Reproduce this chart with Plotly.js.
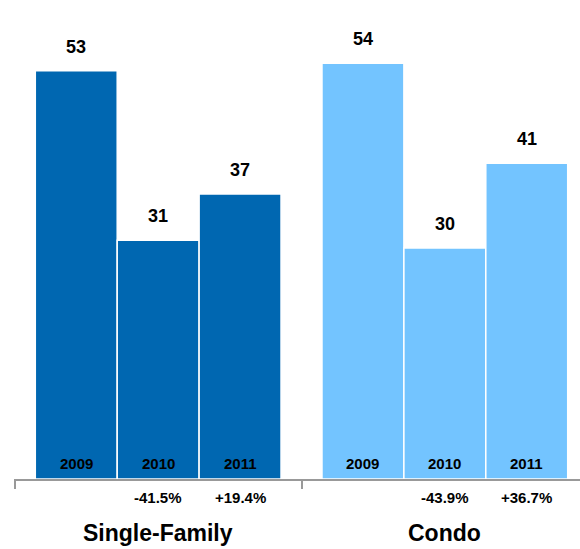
<!DOCTYPE html>
<html>
<head>
<meta charset="utf-8">
<script src="https://cdn.plot.ly/plotly-3.0.1.min.js"></script>
<style>html,body{margin:0;padding:0;background:#fff;}#chart{width:580px;height:549px;}</style>
</head>
<body>
<div id="chart"></div>
<script>
const groups = ["Single-Family", "Condo"];
const years = ["2009", "2010", "2011"];
const singleFamily = [53, 31, 37];
const condo = [54, 30, 41];
const singleFamilyChange = ["", "-41.5%", "+19.4%"];
const condoChange = ["", "-43.9%", "+36.7%"];
const positions = [[0, 1, 2], [3.5, 4.5, 5.5]];
const seriesValues = [singleFamily, condo];
const seriesChanges = [singleFamilyChange, condoChange];
const colors = ["#0067B1", "#73C4FF"];

const font = "Liberation Sans, Arial, Helvetica, sans-serif";
const traces = [];
const annotations = [];
seriesValues.forEach((vals, g) => {
  traces.push({
    type: "bar",
    x: positions[g],
    y: vals,
    width: 1,
    marker: {color: colors[g], line: {color: "#ffffff", width: 1.5}},
    hoverinfo: "skip",
    showlegend: false
  });
  vals.forEach((v, i) => {
    annotations.push({x: positions[g][i], y: v, xref: "x", yref: "y", text: "<b>" + v + "</b>",
      showarrow: false, yanchor: "bottom", yshift: 12, font: {family: font, size: 18, color: "#000"}});
    annotations.push({x: positions[g][i], y: 0, xref: "x", yref: "y", text: "<b>" + years[i] + "</b>",
      showarrow: false, yanchor: "bottom", yshift: 5, font: {family: font, size: 15, color: "#000"}});
    if (seriesChanges[g][i]) {
      annotations.push({x: positions[g][i], y: 0, xref: "x", yref: "paper", text: "<b>" + seriesChanges[g][i] + "</b>",
        showarrow: false, yanchor: "middle", yshift: -18, font: {family: font, size: 15, color: "#000"}});
    }
  });
  annotations.push({x: positions[g][1], y: 0, xref: "x", yref: "paper", text: "<b>" + groups[g] + "</b>",
    showarrow: false, yanchor: "middle", yshift: -54, font: {family: font, size: 23, color: "#000"}});
});

const layout = {
  width: 580, height: 549,
  margin: {l: 14, r: 0, t: 0, b: 70},
  paper_bgcolor: "#fff", plot_bgcolor: "#fff",
  xaxis: {range: [-0.76, 6.15], showgrid: false, zeroline: false, showline: true,
    linecolor: "#999999", linewidth: 2, tickmode: "array", tickvals: [-0.75, 2.75],
    ticktext: ["", ""], ticks: "outside", ticklen: 8, tickwidth: 2, tickcolor: "#999999", fixedrange: true},
  yaxis: {range: [0, 62.2], visible: false, fixedrange: true},
  bargap: 0,
  annotations: annotations
};
Plotly.newPlot("chart", traces, layout, {displayModeBar: false, staticPlot: true});
</script>
</body>
</html>
